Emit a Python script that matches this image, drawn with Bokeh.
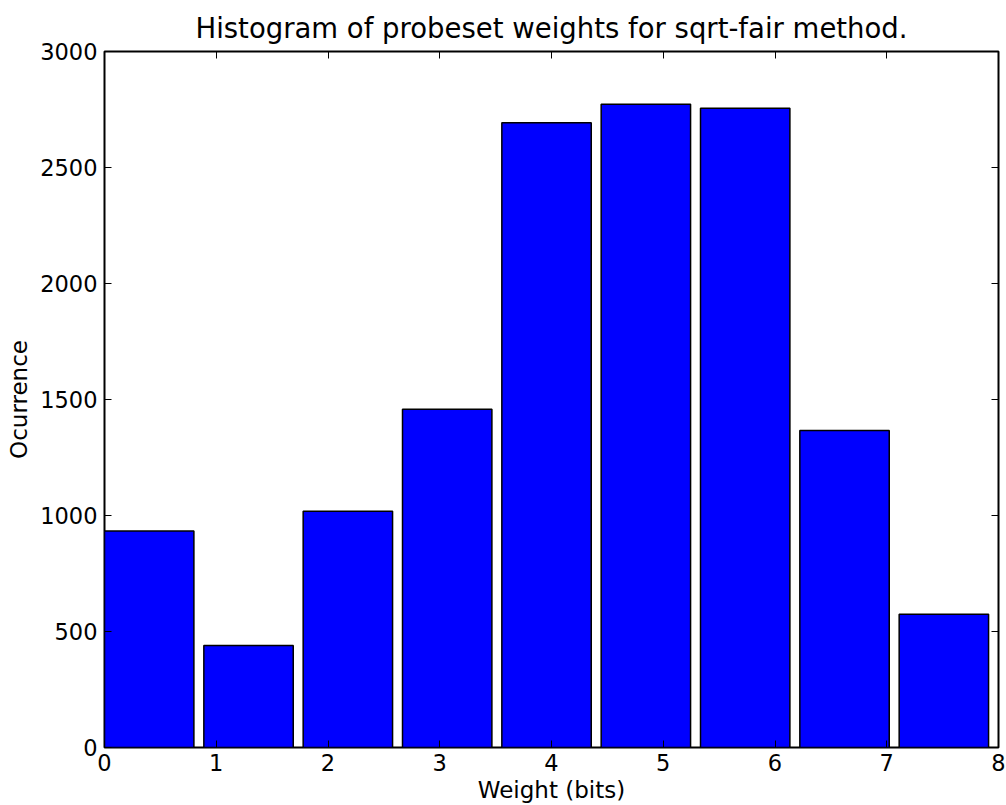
import numpy as np
from bokeh.plotting import figure
from bokeh.models import LinearAxis, FixedTicker, Range1d, ColumnDataSource
from bokeh.embed import file_html
from bokeh.resources import INLINE

# data
bin_count = 9
x_min, x_max = 0, 8
counts = [933, 440, 1018, 1458, 2693, 2773, 2755, 1366, 574]
x_ticks = [0, 1, 2, 3, 4, 5, 6, 7, 8]
y_ticks = [0, 500, 1000, 1500, 2000, 2500, 3000]

edges = np.linspace(x_min, x_max, bin_count + 1)
bw = edges[1] - edges[0]
rwidth = 0.9
src = ColumnDataSource(dict(left=edges[:-1], right=edges[:-1] + bw * rwidth, top=counts))

FONT = "DejaVu Sans"
p = figure(width=1006, height=805, output_backend="svg", toolbar_location=None,
           x_range=Range1d(0, 8), y_range=Range1d(0, 3000),
           min_border_left=104, min_border_right=8, min_border_top=51, min_border_bottom=58,
           title="Histogram of probeset weights for sqrt-fair method.")
p.title.text_font = FONT
p.title.text_font_size = "27.5px"
p.title.text_font_style = "normal"
p.title.text_color = "black"
p.title.align = "center"
p.title.offset = 0
p.title.standoff = 15
p.grid.visible = False
p.outline_line_color = "black"
p.outline_line_width = 2

p.quad(left="left", right="right", bottom=0, top="top", source=src,
       fill_color="#0000ff", line_color="black", line_width=1.5)

p.add_layout(LinearAxis(), "right")
p.add_layout(LinearAxis(), "above")

for ax in p.axis:
    ax.axis_line_color = None
    ax.major_tick_in = 7
    ax.major_tick_out = 0
    ax.minor_tick_line_color = None
    ax.major_tick_line_color = "black"
    ax.major_tick_line_width = 1
    ax.major_label_text_font = FONT
    ax.major_label_text_font_size = "22.5px"
    ax.major_label_text_color = "black"
    ax.axis_label_text_font = FONT
    ax.axis_label_text_font_size = "23px"
    ax.axis_label_text_font_style = "normal"
    ax.axis_label_text_color = "black"

for ax in p.xaxis:
    ax.ticker = FixedTicker(ticks=x_ticks)
for ax in p.yaxis:
    ax.ticker = FixedTicker(ticks=y_ticks)

p.below[0].axis_label = "Weight (bits)"
p.below[0].major_label_standoff = 6
p.below[0].axis_label_standoff = 3
p.left[0].axis_label = "Ocurrence"
p.left[0].major_label_standoff = 7
p.left[0].axis_label_standoff = 5
p.right[0].major_label_overrides = {t: "" for t in y_ticks}
p.above[0].major_label_overrides = {t: "" for t in x_ticks}
p.right[0].major_label_standoff = 0
p.above[0].major_label_standoff = 0

open("out.html", "w").write(file_html(p, INLINE))
